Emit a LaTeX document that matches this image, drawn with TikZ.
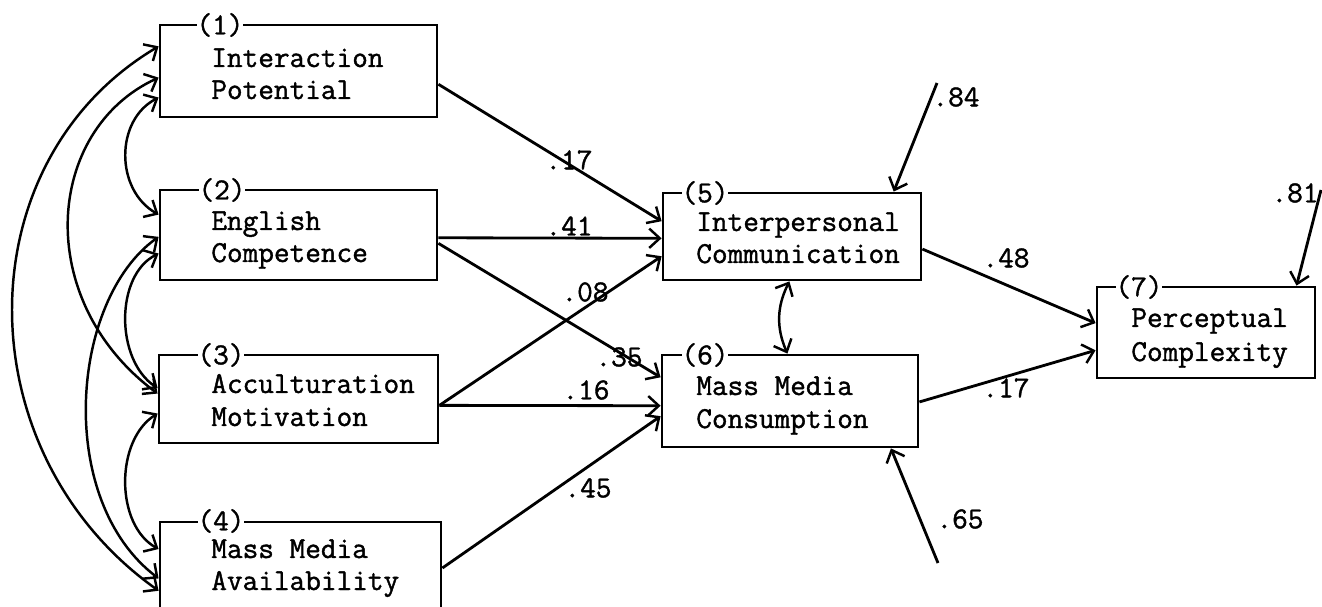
\documentclass[tikz,border=0pt]{standalone}
\usepackage{fontspec}
\newfontfamily\tw{Latin Modern Mono}[FakeBold=1.3]
\usetikzlibrary{arrows.meta,calc,fit}
\begin{document}
\begin{tikzpicture}[x=0.02cm,y=-0.02cm,
  box/.style={draw, line width=1.6pt, inner sep=0pt},
  tx/.style={font={\tw\bfseries\fontsize{17.3pt}{20pt}\selectfont}, inner sep=0pt, anchor=base west},
  num/.style={font={\tw\bfseries\fontsize{17.3pt}{20pt}\selectfont}, fill=white, inner sep=0pt},
  lab/.style={font={\tw\bfseries\fontsize{17.3pt}{20pt}\selectfont}, inner sep=0pt},
  tip/.tip={Straight Barb[length=6pt,width=11pt,line width=1.4pt]},
  arr/.style={line width=1.6pt, -tip},
  dbl/.style={line width=1.4pt, tip-tip}]
\useasboundingbox (0,0) rectangle (1322,607);
% boxes
\node[box, fit={(160,25) (437,117)}] (b1) {};
\node[box, fit={(160,190) (437,280)}] (b2) {};
\node[box, fit={(159,355) (438,443)}] (b3) {};
\node[box, fit={(160,522) (441,614)}] (b4) {};
\node[box, fit={(663,193) (921,280)}] (b5) {};
\node[box, fit={(662,355) (918,447)}] (b6) {};
\node[box, fit={(1097,287) (1315,378)}] (b7) {};
% numbers
\node[num] (n1) at (220,25) {(1)};
\node[num] (n2) at (222,190) {(2)};
\node[num] (n3) at (221,355) {(3)};
\node[num] (n4) at (221,521) {(4)};
\node[num] (n5) at (705,193) {(5)};
\node[num] (n6) at (705,355) {(6)};
\node[num] (n7) at (1139,287) {(7)};
% texts
\node[tx] (t1a) at (211,67) {Interaction};
\node[tx] (t1b) at (211,99) {Potential};
\node[tx] (t2a) at (211,230) {English};
\node[tx] (t2b) at (211,262) {Competence};
\node[tx] (t3a) at (211,393) {Acculturation};
\node[tx] (t3b) at (211,426) {Motivation};
\node[tx] (t4a) at (211,558) {Mass Media};
\node[tx] (t4b) at (211,590) {Availability};
\node[tx] (t5a) at (696,231) {Interpersonal};
\node[tx] (t5b) at (696,263) {Communication};
\node[tx] (t6a) at (696,395) {Mass Media};
\node[tx] (t6b) at (696,428) {Consumption};
\node[tx] (t7a) at (1131,327) {Perceptual};
\node[tx] (t7b) at (1131,361) {Complexity};
% anchor points
\coordinate (b1e) at ($(b1.north east)!0.64!(b1.south east)$);
\coordinate (b2e1) at ($(b2.north east)!0.53!(b2.south east)$);
\coordinate (b2e2) at ($(b2.north east)!0.59!(b2.south east)$);
\coordinate (b3e) at ($(b3.north east)!0.57!(b3.south east)$);
\coordinate (b4e) at ($(b4.north east)!0.5!(b4.south east)$);
\coordinate (b5w1) at ($(b5.north west)!0.33!(b5.south west)$);
\coordinate (b5w2) at ($(b5.north west)!0.52!(b5.south west)$);
\coordinate (b5w3) at ($(b5.north west)!0.72!(b5.south west)$);
\coordinate (b6w1) at ($(b6.north west)!0.25!(b6.south west)$);
\coordinate (b6w2) at ($(b6.north west)!0.55!(b6.south west)$);
\coordinate (b6w3) at ($(b6.north west)!0.66!(b6.south west)$);
\coordinate (b5e) at ($(b5.north east)!0.64!(b5.south east)$);
\coordinate (b6e) at ($(b6.north east)!0.51!(b6.south east)$);
\coordinate (b7w1) at ($(b7.north west)!0.40!(b7.south west)$);
\coordinate (b7w2) at ($(b7.north west)!0.69!(b7.south west)$);
\coordinate (b5s) at ($(b5.south west)!0.49!(b5.south east)$);
\coordinate (b6n) at ($(b6.north west)!0.49!(b6.north east)$);
\coordinate (b5n) at ($(b5.north west)!0.89!(b5.north east)$);
\coordinate (b7n) at ($(b7.north west)!0.91!(b7.north east)$);
\coordinate (b6s) at ($(b6.south west)!0.89!(b6.south east)$);
\coordinate (e5) at (937,83);
\coordinate (e7) at (1321,190);
\coordinate (e6) at (938,563);
% left side points
\coordinate (b1w1) at ($(b1.north west)!0.24!(b1.south west)$);
\coordinate (b1w2) at ($(b1.north west)!0.57!(b1.south west)$);
\coordinate (b1w3) at ($(b1.north west)!0.78!(b1.south west)$);
\coordinate (b2w1) at ($(b2.north west)!0.28!(b2.south west)$);
\coordinate (b2w2) at ($(b2.north west)!0.52!(b2.south west)$);
\coordinate (b2w3) at ($(b2.north west)!0.70!(b2.south west)$);
\coordinate (b3w1) at ($(b3.north west)!0.38!(b3.south west)$);
\coordinate (b3w2) at ($(b3.north west)!0.44!(b3.south west)$);
\coordinate (b3w3) at ($(b3.north west)!0.66!(b3.south west)$);
\coordinate (b4w1) at ($(b4.north west)!0.30!(b4.south west)$);
\coordinate (b4w2) at ($(b4.north west)!0.61!(b4.south west)$);
\coordinate (b4w3) at ($(b4.north west)!0.74!(b4.south west)$);
% paths
\draw[arr] (b1e) -- (b5w1);
\draw[arr] (b2e1) -- (b5w2);
\draw[arr] (b2e2) -- (b6w1);
\draw[arr] (b3e) -- (b5w3);
\draw[arr] (b3e) -- (b6w2);
\draw[arr] (b4e) -- (b6w3);
\draw[arr] (b5e) -- (b7w1);
\draw[arr] (b6e) -- (b7w2);
\draw[arr] (e5) -- (b5n);
\draw[arr] (e7) -- (b7n);
\draw[arr] (e6) -- (b6s);
\draw[dbl] (b5s) to[bend right=25] (b6n);
% correlations
\draw[dbl] (b1w1) .. controls (-36,162) and (-36,452) .. (b4w3);
\draw[dbl] (b1w2) .. controls (45,130) and (32,300) .. (b3w2);
\draw[dbl] (b2w2) .. controls (70,300) and (55,500) .. (b4w2);
\draw[dbl] (b1w3) .. controls (115,120) and (115,190) .. (b2w1);
\draw[dbl] (b2w3) .. controls (115,275) and (115,360) .. (b3w1);
\draw[dbl] (b3w3) .. controls (115,440) and (115,525) .. (b4w1);
% labels
\node[lab] (l1) at (569,160) {.17};
\node[lab] (l2) at (569,226) {.41};
\node[lab] (l3) at (585,292) {.08};
\node[lab] (l4) at (619,357) {.35};
\node[lab] (l5) at (586,390) {.16};
\node[lab] (l6) at (588,488) {.45};
\node[lab] (l7) at (956,97) {.84};
\node[lab] (l8) at (1295,193) {.81};
\node[lab] (l9) at (1006,258) {.48};
\node[lab] (l10) at (1006,388) {.17};
\node[lab] (l11) at (960,519) {.65};
\end{tikzpicture}
\end{document}
